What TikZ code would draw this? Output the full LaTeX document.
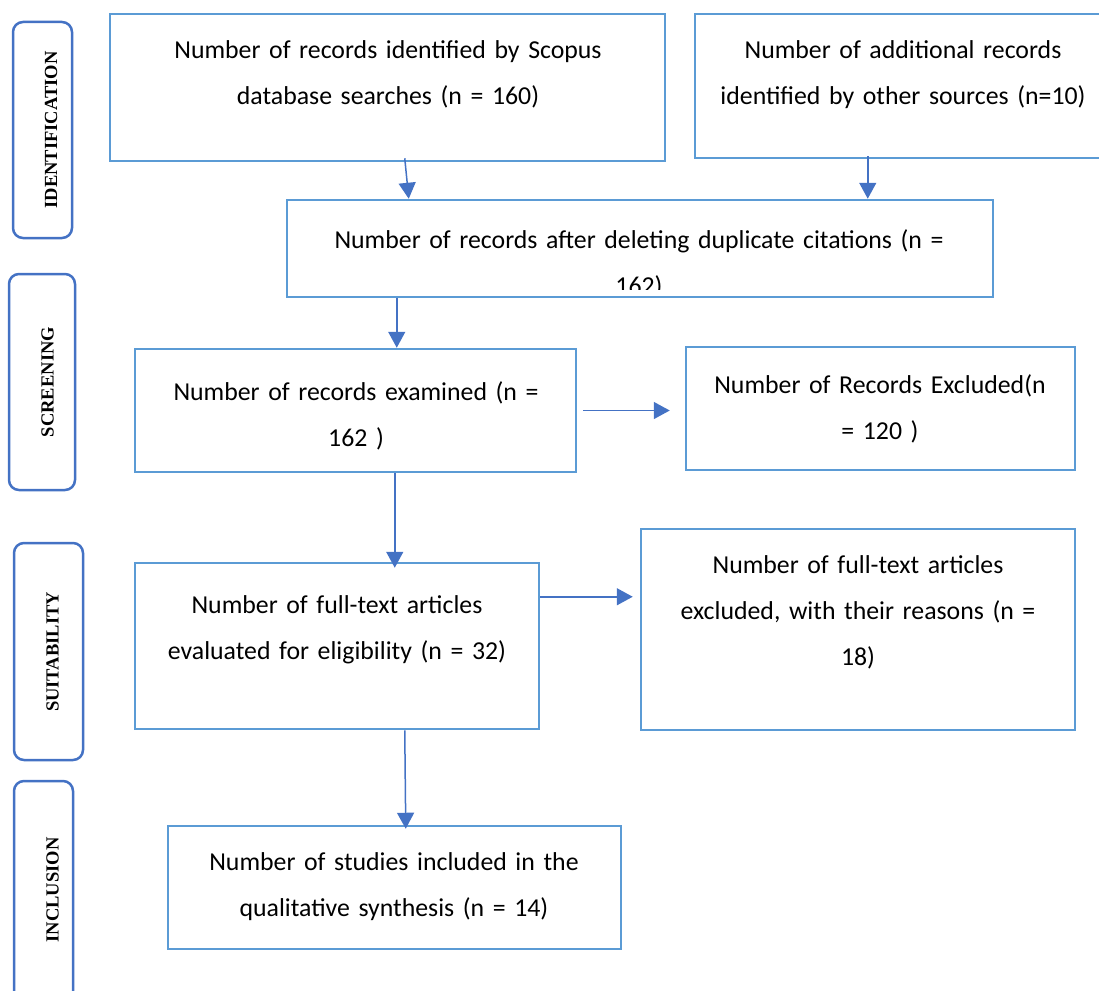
\documentclass[tikz,border=0pt]{standalone}
\usepackage{fontspec}
\setmainfont{Carlito}
\newfontfamily\labelfont{Liberation Serif}
\usetikzlibrary{arrows.meta}
\definecolor{boxblue}{HTML}{5B9BD5}
\definecolor{arrowblue}{HTML}{4472C4}
\tikzset{
  flowbox/.style={draw=boxblue, line width=2.5pt, rectangle, inner sep=0pt, fill=none},
  sidebox/.style={draw=arrowblue, line width=2.5pt, rectangle, rounded corners=10pt, inner sep=0pt},
  sidetext/.style={rotate=90, font=\labelfont\bfseries\fontsize{18.5}{20}\selectfont, inner sep=0pt},
  boxtext/.style={anchor=base, inner sep=0pt, text width=900pt, align=center, font=\fontsize{25.8}{46}\selectfont},
  flowarrow/.style={draw=arrowblue, line width=1.5pt, -{Triangle[width=17pt,length=16pt]}},
}
\begin{document}
\begin{tikzpicture}[x=1pt, y=-1pt]
\useasboundingbox (0,0) rectangle (1099,990);
\clip (0,0) rectangle (1099,990);
% side labels
\node[sidebox, minimum width=59pt, minimum height=216pt] (s1) at (42.5,130) {};
\node[sidetext] (t1) at (51,130) {IDENTIFICATION};
\node[sidebox, minimum width=66pt, minimum height=216pt] (s2) at (42,382) {};
\node[sidetext] (t2) at (47.5,382) {SCREENING};
\node[sidebox, minimum width=69pt, minimum height=217pt] (s3) at (48.5,651.5) {};
\node[sidetext] (t3) at (52.5,652) {SUITABILITY};
\node[sidebox, minimum width=59pt, minimum height=228pt] (s4) at (43.5,895) {};
\node[sidetext] (t4) at (52.5,890) {INCLUSION};
% boxes
\node[flowbox, minimum width=555pt, minimum height=147pt] (b1) at (387.5,87.5) {};
\node[boxtext] (x1) at (388,58.5) {Number of records identified by Scopus\\database searches (n = 160)};
\node[flowbox, minimum width=420pt, minimum height=144pt] (b2) at (905,86) {};
\node[boxtext] (x2) at (903,58.5) {Number of additional records\\identified by other sources (n=10)};
\begin{scope}
\clip (287,200) rectangle (993,289);
\node[boxtext] (x3) at (639,248.5) {Number of records after deleting duplicate citations (n =\\162)};
\end{scope}
\node[flowbox, minimum width=706pt, minimum height=97pt] (b3) at (640,248.5) {};
\node[flowbox, minimum width=441pt, minimum height=123pt] (b4) at (355.5,410.5) {};
\node[boxtext] (x4) at (356,400.5) {Number of records examined (n =\\162 )};
\node[flowbox, minimum width=389pt, minimum height=123pt] (b5) at (880.5,408.5) {};
\node[boxtext] (x5) at (880,393.5) {Number of Records Excluded(n\\= 120 )};
\node[flowbox, minimum width=404pt, minimum height=166pt] (b6) at (337,646) {};
\node[boxtext] (x6) at (337,613.5) {Number of full-text articles\\evaluated for eligibility (n = 32)};
\node[flowbox, minimum width=434pt, minimum height=201pt] (b7) at (858,629.5) {};
\node[boxtext] (x7) at (858,573.5) {Number of full-text articles\\excluded, with their reasons (n =\\18)};
\node[flowbox, minimum width=453pt, minimum height=123pt] (b8) at (394.5,887.5) {};
\node[boxtext] (x8) at (394,870.5) {Number of studies included in the\\qualitative synthesis (n = 14)};
% arrows
\draw[flowarrow] ([xshift=296pt,yshift=4pt]b1.south west) -- ([xshift=123pt]b3.north west);
\draw[flowarrow] ([xshift=174pt,yshift=3pt]b2.south west) -- ([xshift=582pt]b3.north west);
\draw[flowarrow] ([xshift=111pt]b3.south west) -- ([xshift=263pt]b4.north west);
\draw[flowarrow] ([xshift=6pt]b4.east) -- ([xshift=-15pt]b4.east -| b5.west);
\draw[flowarrow] ([xshift=261pt]b4.south west) -- ([xshift=261pt,yshift=-6pt]b6.north west);
\draw[flowarrow] ([yshift=-35pt]b6.north east) -- ([xshift=-7pt,yshift=-35pt]b6.north east -| b7.west);
\draw[flowarrow] ([xshift=271pt]b6.south west) -- ([xshift=239pt,yshift=-4pt]b8.north west);
\end{tikzpicture}
\end{document}
